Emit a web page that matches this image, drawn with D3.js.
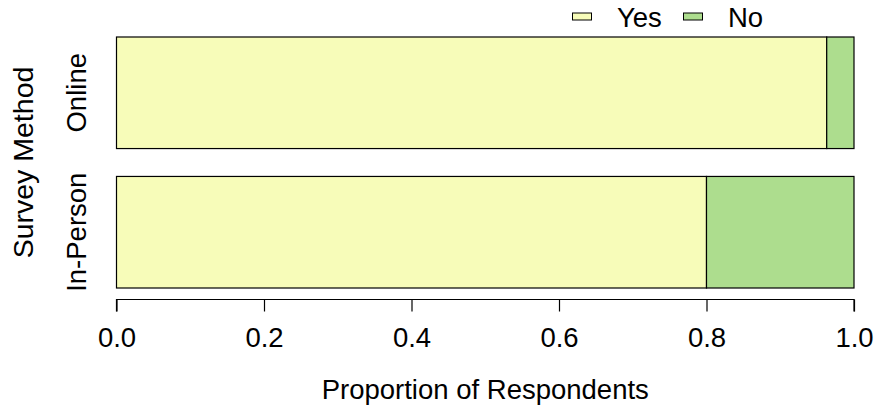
<!DOCTYPE html>
<html>
<head>
<meta charset="utf-8">
<script src="https://cdn.jsdelivr.net/npm/d3@7"></script>
<style>
  body { margin: 0; background: #fff; }
  svg text { font-family: "Liberation Sans", Arial, sans-serif; fill: #000; }
</style>
</head>
<body>
<div id="chart"></div>
<script>
// data
const methods = ["Online", "In-Person"];
const yesValues = [0.963, 0.80];
const noValues = [0.037, 0.20];
const seriesNames = ["Yes", "No"];
const seriesColors = ["#F7FCB9", "#ADDD8E"];
const xTicks = [0, 0.2, 0.4, 0.6, 0.8, 1.0];

const width = 880, height = 413;
const fontSize = 27.5;
const svg = d3.select("#chart").append("svg")
    .attr("width", width).attr("height", height);

const x = d3.scaleLinear().domain([0, 1]).range([116.5, 854]);
const y = d3.scaleBand().domain(methods).range([37, 288]).paddingInner(0.2);

// stacked bars
const rows = methods.map((m, i) => ({ method: m, Yes: yesValues[i], No: noValues[i] }));
const stacked = d3.stack().keys(seriesNames)(rows);

stacked.forEach((layer, k) => {
    svg.append("g").selectAll("rect")
        .data(layer)
        .join("rect")
        .attr("x", d => x(d[0]))
        .attr("y", d => y(d.data.method))
        .attr("width", d => x(d[1]) - x(d[0]))
        .attr("height", y.bandwidth())
        .attr("fill", seriesColors[k])
        .attr("stroke", "#000")
        .attr("stroke-width", 1.2);
});

// x axis
const axisY = 299.5;
const xAxis = d3.axisBottom(x).tickValues(xTicks).tickFormat(d3.format(".1f")).tickSize(12).tickPadding(0);
const gx = svg.append("g").attr("transform", `translate(0,${axisY})`).call(xAxis);
gx.select(".domain").attr("d", `M${x(0)},12V0H${x(1)}V12`).attr("stroke", "#000").attr("stroke-width", 1.2);
gx.selectAll(".tick line").attr("stroke", "#000").attr("stroke-width", 1.2);
gx.selectAll("text")
    .attr("y", 347 - axisY).attr("dy", null)
    .attr("font-size", fontSize)
    .attr("font-family", "Liberation Sans, Arial, sans-serif")
    .attr("fill", "#000");

// category labels
svg.append("g").selectAll("text")
    .data(methods)
    .join("text")
    .attr("transform", d => `translate(86,${y(d) + y.bandwidth() / 2}) rotate(-90)`)
    .attr("text-anchor", "middle")
    .attr("font-size", fontSize)
    .text(d => d);

// axis titles
svg.append("text")
    .attr("x", (x(0) + x(1)) / 2).attr("y", 399)
    .attr("text-anchor", "middle").attr("font-size", fontSize)
    .text("Proportion of Respondents");

svg.append("text")
    .attr("transform", `translate(33,${(37 + 288) / 2}) rotate(-90)`)
    .attr("text-anchor", "middle").attr("font-size", 28.5)
    .text("Survey Method");

// legend
const legendX = [572, 683];
const legend = svg.append("g").selectAll("g")
    .data(seriesNames)
    .join("g")
    .attr("transform", (d, i) => `translate(${legendX[i]},0)`);
legend.append("rect")
    .attr("x", 0.5).attr("y", 13).attr("width", 19).attr("height", 7)
    .attr("fill", (d, i) => seriesColors[i])
    .attr("stroke", "#000").attr("stroke-width", 1);
legend.append("text")
    .attr("x", 45).attr("y", 27)
    .attr("font-size", fontSize)
    .text(d => d);
</script>
</body>
</html>
